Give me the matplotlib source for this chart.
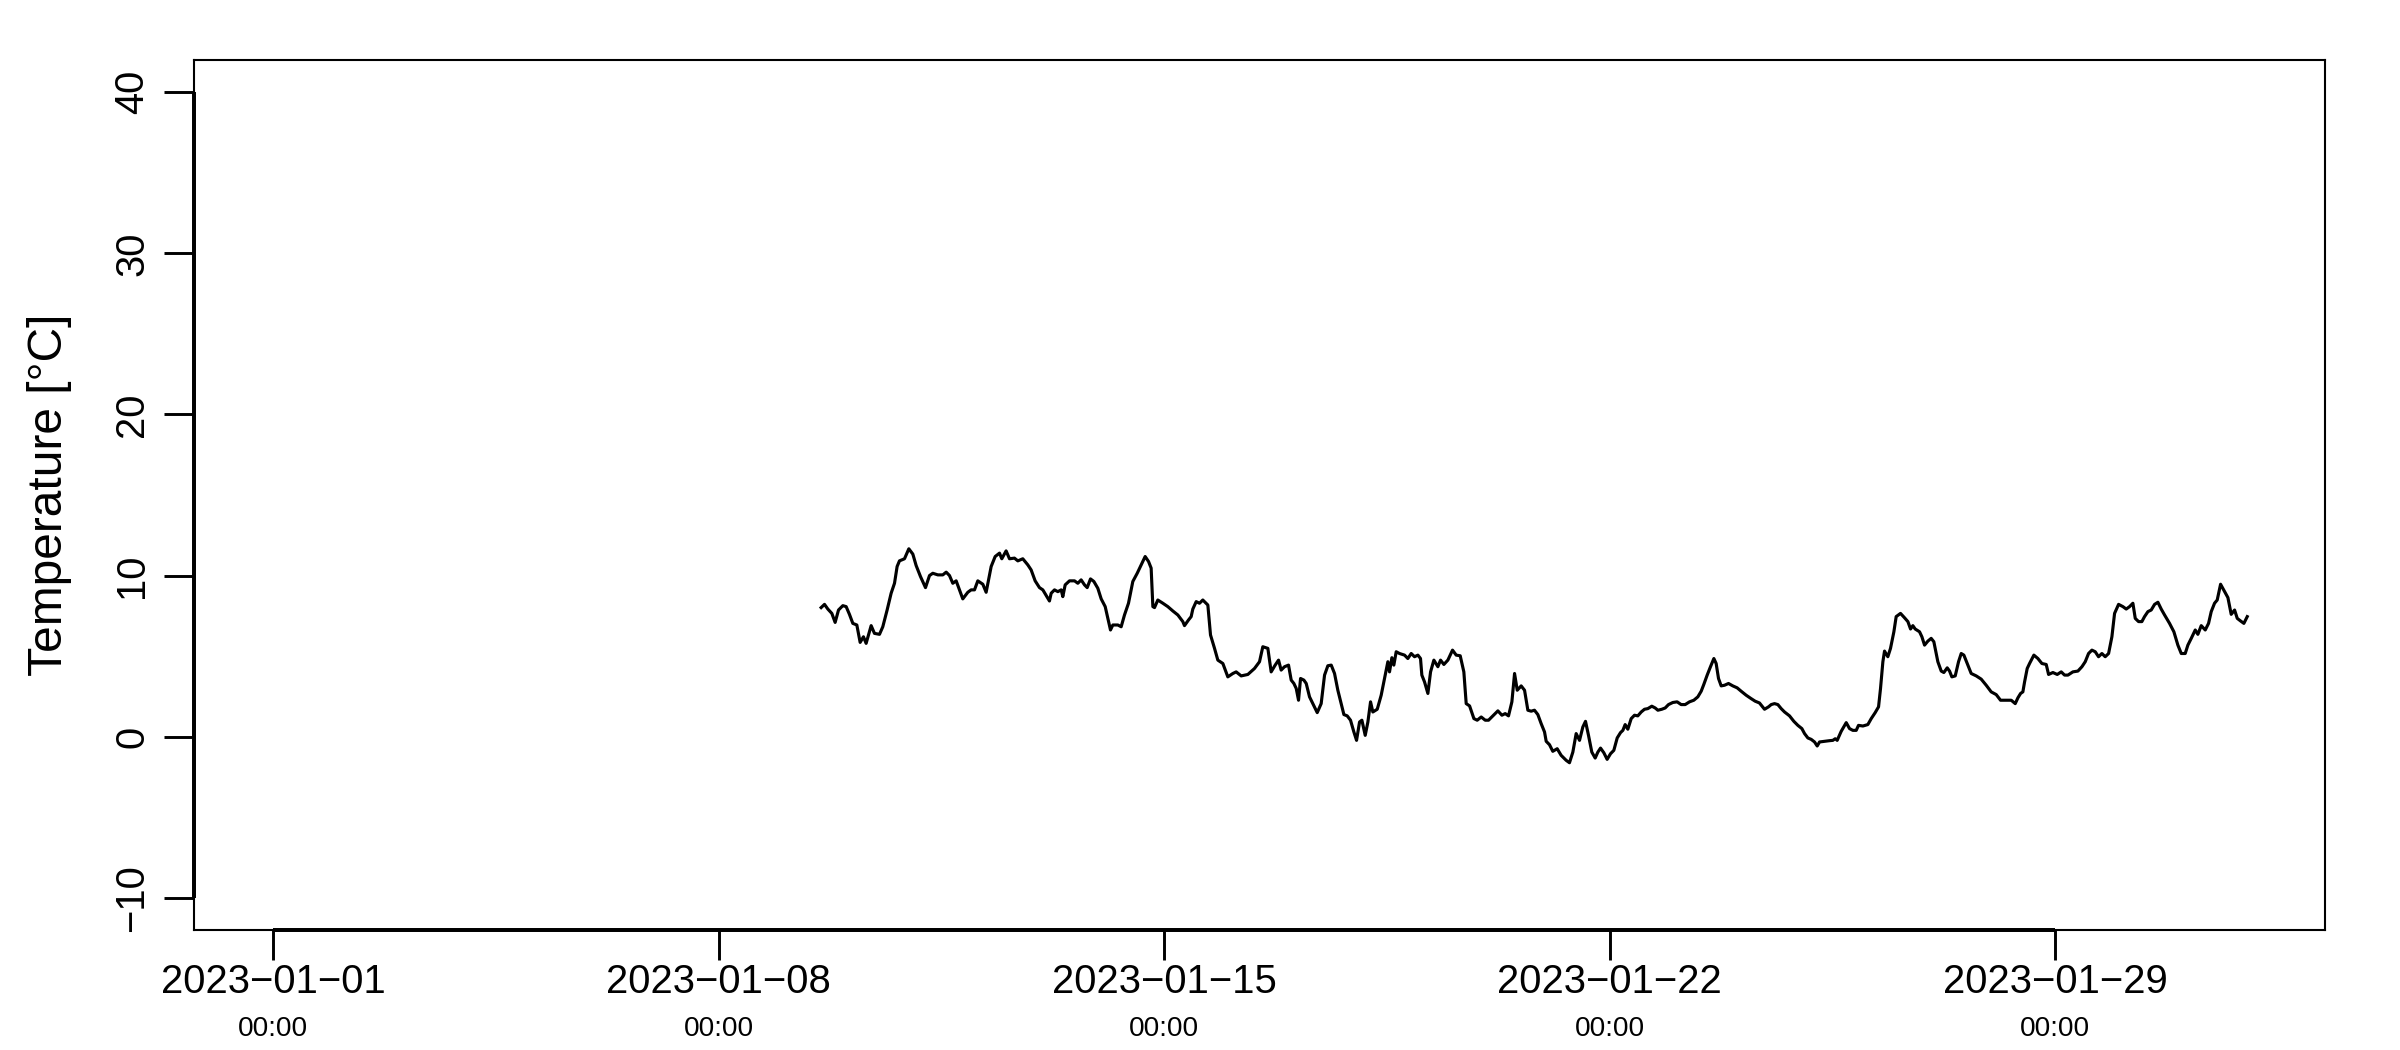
import matplotlib
matplotlib.use("Agg")
import matplotlib.pyplot as plt
import matplotlib.dates as mdates
import pandas as pd

plt.rcParams['font.family'] = ['Liberation Sans', 'DejaVu Sans']

START = pd.Timestamp('2023-01-01')
END = pd.Timestamp('2023-02-01')

# time as days since 2023-01-01 00:00, temperature in degC
days = [
    8.609, 8.662, 8.714, 8.777, 8.829, 8.882, 8.950, 9.002, 9.054, 9.107,
    9.170, 9.222, 9.274, 9.316, 9.395, 9.447, 9.526, 9.578, 9.646, 9.709,
    9.762, 9.803, 9.840, 9.919, 9.987, 10.050, 10.102, 10.170, 10.249, 10.312,
    10.364, 10.443, 10.521, 10.574, 10.626, 10.678, 10.731, 10.835, 10.914, 10.966,
    11.019, 11.071, 11.150, 11.202, 11.281, 11.344, 11.412, 11.448, 11.516, 11.569,
    11.647, 11.700, 11.778, 11.857, 11.909, 11.972, 12.040, 12.093, 12.197,
    12.224, 12.276, 12.329, 12.381, 12.407, 12.444, 12.512, 12.591, 12.643, 12.695,
    12.748, 12.790, 12.842, 12.895, 12.957, 13.010, 13.073, 13.115, 13.156, 13.193,
    13.272, 13.324, 13.376, 13.439, 13.507, 13.576, 13.638, 13.701, 13.754, 13.795,
    13.822, 13.848, 13.900, 13.979, 14.057, 14.136, 14.215, 14.293, 14.319, 14.382,
    14.424, 14.450, 14.503, 14.555, 14.607, 14.686, 14.728, 14.791, 14.843, 14.922,
    15.000, 15.079, 15.131, 15.210, 15.315, 15.419, 15.498, 15.550, 15.629, 15.681,
    15.744, 15.797, 15.838, 15.891, 15.954,
    15.996, 16.038, 16.075, 16.111, 16.143, 16.195, 16.232, 16.284, 16.336, 16.405,
    16.467, 16.520, 16.572, 16.625, 16.677, 16.729, 16.782, 16.824, 16.876, 16.928,
    16.981, 17.023, 17.070, 17.107, 17.159, 17.201, 17.243, 17.279, 17.348, 17.410,
    17.463, 17.515, 17.541, 17.578, 17.609, 17.646, 17.698, 17.777, 17.829, 17.882,
    17.934, 17.987, 18.028, 18.049, 18.091, 18.144, 18.186, 18.238, 18.301, 18.343,
    18.395, 18.458, 18.531, 18.589, 18.652, 18.709, 18.746, 18.799, 18.867, 18.919,
    18.982, 19.045, 19.097, 19.165, 19.244, 19.307, 19.359, 19.411, 19.464, 19.506,
    19.548, 19.610, 19.663, 19.715,
    19.767, 19.819, 19.872, 19.924, 19.977, 20.003, 20.055, 20.107, 20.176, 20.238,
    20.317, 20.369, 20.422, 20.474, 20.527, 20.579, 20.621, 20.668, 20.720, 20.773,
    20.815, 20.857, 20.909, 20.961, 21.014, 21.066, 21.119, 21.171, 21.208, 21.244,
    21.286, 21.339, 21.391, 21.443, 21.496, 21.548, 21.600, 21.663, 21.716, 21.758,
    21.820, 21.873, 21.925, 21.993, 22.061, 22.124, 22.187, 22.255, 22.323, 22.386,
    22.439, 22.480, 22.533, 22.585, 22.638, 22.674, 22.711, 22.753, 22.805, 22.868,
    22.936, 23.004, 23.067, 23.146, 23.224, 23.287, 23.355, 23.434, 23.497,
    23.539, 23.591, 23.644, 23.696, 23.749, 23.827, 23.895, 23.958, 24.021, 24.063,
    24.115, 24.168, 24.220, 24.262, 24.299, 24.377, 24.456, 24.508, 24.545, 24.576,
    24.639, 24.718, 24.770, 24.822, 24.875, 24.911, 24.980, 25.058, 25.111, 25.173,
    25.226, 25.257, 25.294, 25.320, 25.372, 25.414, 25.467, 25.503, 25.571, 25.634,
    25.687, 25.729, 25.765, 25.802, 25.870, 25.907, 25.949, 26.001, 26.053, 26.095,
    26.158, 26.211, 26.252, 26.305, 26.342, 26.378, 26.431, 26.483, 26.525, 26.567,
    26.630, 26.682, 26.761, 26.839, 26.918, 26.996, 27.075, 27.143, 27.206, 27.284,
    27.311, 27.374, 27.416, 27.458, 27.494, 27.521, 27.562, 27.599, 27.667, 27.730,
    27.793, 27.861, 27.898, 27.966, 28.034, 28.097, 28.149, 28.202, 28.280, 28.359,
    28.422, 28.474, 28.526, 28.579, 28.631, 28.683, 28.736, 28.788, 28.841, 28.893,
    28.935, 28.998, 29.066, 29.118, 29.171, 29.223, 29.260, 29.312, 29.364, 29.406,
    29.459, 29.511, 29.564, 29.616, 29.668, 29.721, 29.799, 29.867, 29.930, 29.983,
    30.045, 30.087, 30.140, 30.203, 30.244, 30.297, 30.360, 30.412, 30.454, 30.506,
    30.548, 30.601, 30.664, 30.716, 30.768, 30.821, 30.863, 30.915, 30.967, 31.020,
]

temp = [
    8.01, 8.21, 7.92, 7.65, 7.09, 7.86, 8.13, 8.07, 7.59, 7.03,
    6.93, 5.85, 6.20, 5.79, 6.89, 6.41, 6.35, 6.82, 7.86, 8.90,
    9.52, 10.56, 10.91, 11.04, 11.66, 11.33, 10.62, 9.94, 9.25, 10.00,
    10.14, 10.04, 10.04, 10.21, 10.00, 9.52, 9.67, 8.55, 8.96, 9.11,
    9.11, 9.67, 9.46, 8.96, 10.56, 11.18, 11.39, 11.04, 11.53, 11.04,
    11.08, 10.91, 11.04, 10.66, 10.35, 9.67, 9.25, 9.11, 8.42,
    8.90, 9.11, 9.00, 9.11, 8.69, 9.42, 9.67, 9.67, 9.52, 9.73,
    9.42, 9.25, 9.79, 9.63, 9.21, 8.55, 8.07, 7.34, 6.62, 6.93,
    6.93, 6.82, 7.55, 8.28, 9.63, 10.14, 10.66, 11.18, 10.87, 10.46,
    8.07, 8.01, 8.48, 8.28, 8.07, 7.80, 7.55, 7.14, 6.89, 7.24,
    7.45, 7.92, 8.38, 8.28, 8.48, 8.17, 6.31, 5.48, 4.75, 4.54,
    3.71, 3.92, 4.02, 3.77, 3.86, 4.23, 4.65, 5.58, 5.48, 4.02,
    4.44, 4.75, 4.13, 4.34, 4.44,
    3.51, 3.30, 2.99, 2.26, 3.61, 3.51, 3.30, 2.47, 2.05, 1.49,
    2.05, 3.82, 4.40, 4.44, 3.92, 2.88, 2.05, 1.37, 1.29, 1.02,
    0.29, -0.23, 0.91, 1.02, 0.08, 0.91, 2.16, 1.53, 1.70, 2.57,
    3.61, 4.65, 4.02, 4.90, 4.44, 5.27, 5.16, 5.06, 4.85, 5.16,
    4.96, 5.06, 4.85, 3.82, 3.40, 2.68, 4.02, 4.75, 4.34, 4.75,
    4.48, 4.75, 5.37, 5.06, 5.02, 4.02, 2.05, 1.91, 1.12, 1.02,
    1.22, 1.02, 1.02, 1.29, 1.60, 1.33, 1.43, 1.29, 2.16, 3.92,
    2.88, 3.15, 2.88, 1.64,
    1.58, 1.64, 1.37, 0.81, 0.29, -0.29, -0.50, -0.91, -0.75, -1.16,
    -1.47, -1.62, -0.96, 0.19, -0.23, 0.60, 0.95, 0.08, -0.96, -1.33,
    -0.96, -0.71, -1.00, -1.41, -1.06, -0.85, -0.08, 0.25, 0.39, 0.75,
    0.46, 1.12, 1.33, 1.29, 1.53, 1.70, 1.74, 1.89, 1.78, 1.64,
    1.70, 1.78, 1.99, 2.12, 2.16, 1.99, 1.99, 2.16, 2.26, 2.47,
    2.82, 3.24, 3.82, 4.34, 4.85, 4.54, 3.61, 3.15, 3.19, 3.30,
    3.15, 3.03, 2.82, 2.57, 2.36, 2.20, 2.09, 1.70, 1.85,
    1.99, 2.05, 1.99, 1.74, 1.53, 1.29, 0.95, 0.70, 0.50, 0.19,
    -0.08, -0.17, -0.33, -0.58, -0.33, -0.29, -0.25, -0.23, -0.13, -0.23,
    0.33, 0.87, 0.50, 0.39, 0.39, 0.70, 0.66, 0.75, 1.12, 1.49,
    1.85, 2.99, 4.65, 5.31, 4.96, 5.48, 6.51, 7.45, 7.65, 7.38,
    7.14, 6.68, 6.89, 6.68, 6.51, 6.20, 5.68, 5.93, 6.10, 5.89,
    4.65, 4.07, 3.98, 4.27, 4.07, 3.71, 3.77, 4.65, 5.16, 5.06,
    4.44, 3.92, 3.77, 3.57, 3.19, 2.78, 2.61, 2.26, 2.26, 2.26,
    2.26, 2.05, 2.41, 2.68, 2.78, 3.40, 4.23, 4.54, 5.06, 4.85,
    4.54, 4.48, 3.86, 3.98, 3.86, 4.02, 3.82, 3.82, 4.02, 4.07,
    4.34, 4.65, 5.16, 5.37, 5.27, 4.96, 5.16, 4.96, 5.16, 6.20,
    7.65, 8.21, 8.07, 7.92, 8.07, 8.28, 7.34, 7.14, 7.14, 7.45,
    7.76, 7.86, 8.21, 8.34, 7.92, 7.55, 7.03, 6.51, 5.68, 5.16,
    5.16, 5.68, 6.10, 6.62, 6.35, 6.89, 6.62, 7.03, 7.76, 8.28,
    8.48, 9.46, 9.00, 8.63, 7.59, 7.86, 7.34, 7.18, 7.03, 7.45,
]

tick_days = ['2023-01-01', '2023-01-08', '2023-01-15', '2023-01-22', '2023-01-29']
tick_time = '00:00'
y_ticks = [-10, 0, 10, 20, 30, 40]
y_label = 'Temperature [°C]'

if len(days) != len(temp):
    raise SystemExit('length mismatch %d %d' % (len(days), len(temp)))

times = START + pd.to_timedelta(days, unit='D')

fig = plt.figure(figsize=(16, 7), dpi=150)
ax = fig.add_axes([0.0810, 0.1143, 0.8877, 0.8286])
ax.plot(times, temp, color='black', lw=1.5)

# R style: 4% padding around Jan 1 .. Feb 1 and -10 .. 40
pad = (END - START) * 0.04
ax.set_xlim(START - pad, END + pad)
ax.set_ylim(-12, 42)

xt = pd.to_datetime(tick_days)
xnum = mdates.date2num(xt)
ax.set_xticks(xnum)
ax.set_xticklabels([])
ax.set_yticks(y_ticks)
ax.set_yticklabels([])
ax.tick_params(length=14.4, width=1.4, direction='out', color='black')
for s in ax.spines.values():
    s.set_linewidth(1.0)

# axis lines over the box, first tick to last tick
ax.plot([xnum[0], xnum[-1]], [0, 0], transform=ax.get_xaxis_transform(),
        color='black', lw=1.9, clip_on=False, solid_capstyle='butt')
ax.plot([0, 0], [y_ticks[0], y_ticks[-1]], transform=ax.get_yaxis_transform(),
        color='black', lw=1.9, clip_on=False, solid_capstyle='butt')

for x, lab in zip(xnum, tick_days):
    ax.text(x, -0.0721, lab.replace('-', '\u2212'), transform=ax.get_xaxis_transform(),
            ha='center', va='baseline', fontsize=19.2)
    ax.text(x, -0.1218, tick_time, transform=ax.get_xaxis_transform(),
            ha='center', va='baseline', fontsize=13.4)

for v in y_ticks:
    ax.text(-0.0240, v, str(v).replace('-', '\u2212'), transform=ax.get_yaxis_transform(),
            rotation=90, rotation_mode='anchor', ha='center', va='baseline', fontsize=19.2)

ax.text(-0.0622, 0.5, y_label, transform=ax.transAxes, rotation=90,
        rotation_mode='anchor', ha='center', va='baseline', fontsize=23)

fig.savefig('out.png', dpi=150)
